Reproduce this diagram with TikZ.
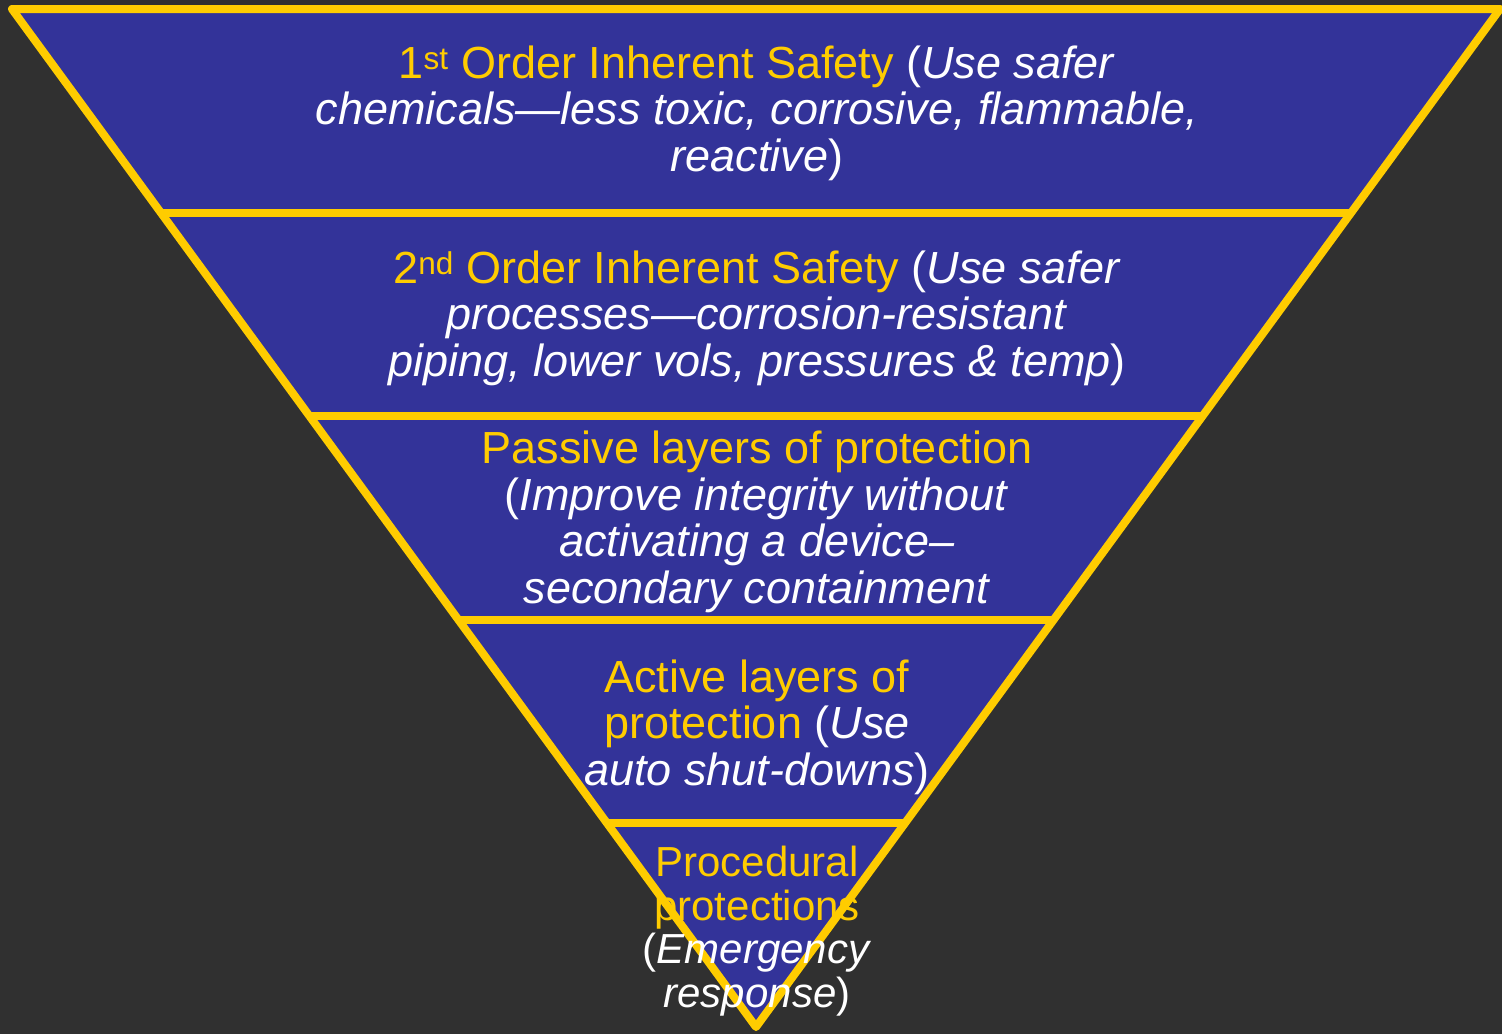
\documentclass[tikz,border=0pt]{standalone}
\usepackage{fontspec}
\setmainfont{Liberation Sans}
\usetikzlibrary{calc}
\definecolor{safeblue}{HTML}{333399}
\definecolor{safeyellow}{HTML}{FFCC00}
\definecolor{slidegray}{HTML}{303030}
\newcommand{\lvl}[1]{\textcolor{safeyellow}{#1}}
\newcommand{\why}[1]{\textit{#1}}

\begin{document}
\begin{tikzpicture}[x=1pt, y=-1pt,
  layer/.style={align=center, text=white, font=\fontsize{45}{46.5}\selectfont, inner sep=0pt},
  rim/.style={draw=safeyellow, line width=8pt, line join=round}
]
\fill[slidegray] (0,0) rectangle (1502,1034);
\useasboundingbox (0,0) rectangle (1502,1034);
\coordinate (tl) at (12,9);
\coordinate (tr) at (1500,9);
\coordinate (apex) at (756,1027);

% inverted pyramid
\fill[safeblue] (tl) -- (tr) -- (apex) -- cycle;
\foreach \f in {0.2,0.4,0.6,0.8}
  \draw[rim] ($(tl)!\f!(apex)$) -- ($(tr)!\f!(apex)$);
\draw[rim] (tl) -- (tr) -- (apex) -- cycle;

% the five layers
\node[layer] (first) at (757,113) {\lvl{1\textsuperscript{st} Order Inherent Safety} (\why{Use safer}\\
  \why{chemicals—less toxic, corrosive, flammable,}\\
  \why{reactive})};
\node[layer] (second) at (757,318) {\lvl{2\textsuperscript{nd} Order Inherent Safety} (\why{Use safer}\\
  \why{processes—corrosion-resistant}\\
  \why{piping, lower vols, pressures \& temp})};
\node[layer] (passive) at (757,522) {\lvl{Passive layers of protection}\\
  (\why{Improve integrity without}\\
  \why{activating a device–}\\
  \why{secondary containment}};
\node[layer] (active) at (757,727) {\lvl{Active layers of}\\
  \lvl{protection} (\why{Use}\\
  \why{auto shut-downs})};
\node[layer, font=\fontsize{42}{43.7}\selectfont] (procedural) at (757,931) {\lvl{Procedural}\\
  \lvl{protections}\\
  (\why{Emergency}\\
  \why{response})};
\end{tikzpicture}
\end{document}
